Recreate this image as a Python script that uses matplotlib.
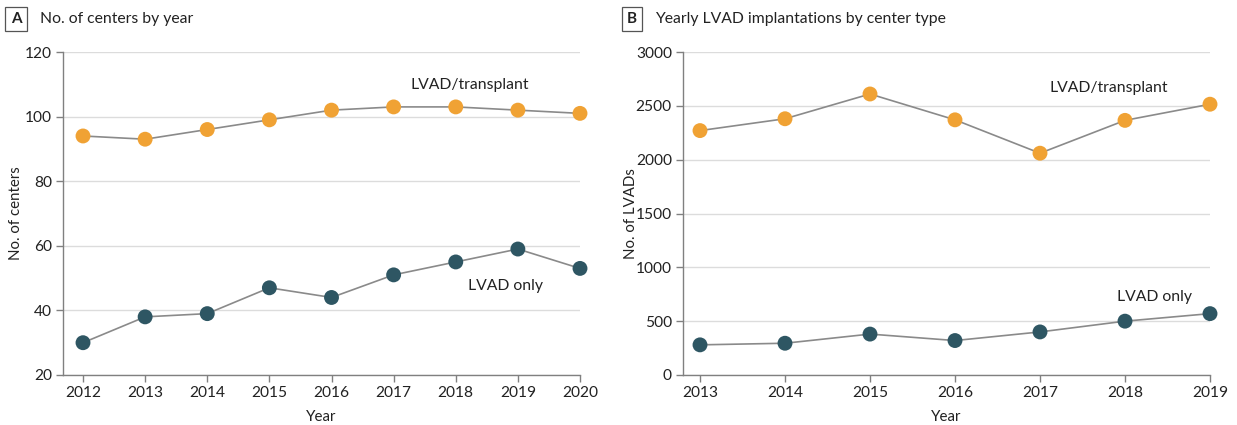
import matplotlib.pyplot as plt

# -----------------------
# Data
# -----------------------
years_a = [2012, 2013, 2014, 2015, 2016, 2017, 2018, 2019, 2020]
centers_transplant = [94, 93, 96, 99, 102, 103, 103, 102, 101]
centers_lvad_only = [30, 38, 39, 47, 44, 51, 55, 59, 53]

years_b = [2013, 2014, 2015, 2016, 2017, 2018, 2019]
lvads_transplant = [2270, 2380, 2610, 2370, 2060, 2365, 2515]
lvads_lvad_only = [280, 295, 380, 320, 400, 500, 570]

ORANGE = "#F0A234"
TEAL = "#2E5663"
LINE = "#8a8a8a"
GRID = "#dcdcdc"
TEXT = "#222222"

plt.rcParams['font.family'] = ['Lato', 'DejaVu Sans']

fig = plt.figure(figsize=(12.37, 4.25), dpi=100)
ax_a = fig.add_axes([63 / 1237, 1 - 375 / 425, 517 / 1237, 323 / 425])
ax_b = fig.add_axes([683 / 1237, 1 - 375 / 425, 527 / 1237, 323 / 425])


def style_axis(ax):
    for side in ("top", "right"):
        ax.spines[side].set_visible(False)
    for side in ("left", "bottom"):
        ax.spines[side].set_color("#808080")
        ax.spines[side].set_linewidth(1.0)
    ax.tick_params(axis="both", colors="#808080", length=5, width=1,
                   labelcolor=TEXT, labelsize=11.2, pad=3)
    ax.grid(axis="y", color=GRID, linewidth=1)
    ax.set_axisbelow(True)


def plot_series(ax, x, y, color):
    ax.plot(x, y, color=LINE, linewidth=1.2, zorder=2)
    ax.scatter(x, y, s=115, color=color, zorder=3, edgecolors="none", clip_on=False)


# Panel A
style_axis(ax_a)
plot_series(ax_a, years_a, centers_transplant, ORANGE)
plot_series(ax_a, years_a, centers_lvad_only, TEAL)
ax_a.set_xlim(2012 - 20 / 62.1, 2020)
ax_a.set_ylim(20, 120)
ax_a.set_yticks(range(20, 121, 20))
ax_a.set_xticks(years_a)
ax_a.set_xlabel("Year", fontsize=10.8, color=TEXT)
ax_a.set_ylabel("No. of centers", fontsize=10.8, color=TEXT)
ax_a.xaxis.set_label_coords(0.5, -0.108)
ax_a.yaxis.set_label_coords(-0.078, 0.5)
ax_a.text(2018.23, 109.8, "LVAD/transplant", fontsize=11.3, color=TEXT, ha="center", va="center")
ax_a.text(2018.8, 47.6, "LVAD only", fontsize=11.3, color=TEXT, ha="center", va="center")

# Panel B
style_axis(ax_b)
plot_series(ax_b, years_b, lvads_transplant, ORANGE)
plot_series(ax_b, years_b, lvads_lvad_only, TEAL)
ax_b.set_xlim(2013 - 17 / 85, 2019)
ax_b.set_ylim(0, 3000)
ax_b.set_yticks(range(0, 3001, 500))
ax_b.set_xticks(years_b)
ax_b.set_xlabel("Year", fontsize=10.8, color=TEXT)
ax_b.set_ylabel("No. of LVADs", fontsize=10.8, color=TEXT)
ax_b.xaxis.set_label_coords(0.5, -0.108)
ax_b.yaxis.set_label_coords(-0.086, 0.5)
ax_b.text(2017.81, 2666, "LVAD/transplant", fontsize=11.3, color=TEXT, ha="center", va="center")
ax_b.text(2018.35, 724, "LVAD only", fontsize=11.3, color=TEXT, ha="center", va="center")

# Panel titles with boxed letters
for x_letter, x_title, letter, title in [
    (16 / 1237, 40 / 1237, "A", "No. of centers by year"),
    (632 / 1237, 655 / 1237, "B", "Yearly LVAD implantations by center type"),
]:
    fig.text(x_letter, 1 - 19 / 425, letter, fontsize=11, fontweight="bold", color=TEXT,
             ha="center", va="center",
             bbox=dict(boxstyle="square,pad=0.35", facecolor="white", edgecolor="#555555", linewidth=0.9))
    fig.text(x_title, 1 - 19 / 425, title, fontsize=11.3, color=TEXT, ha="left", va="center")

fig.savefig("out.png", dpi=100)
